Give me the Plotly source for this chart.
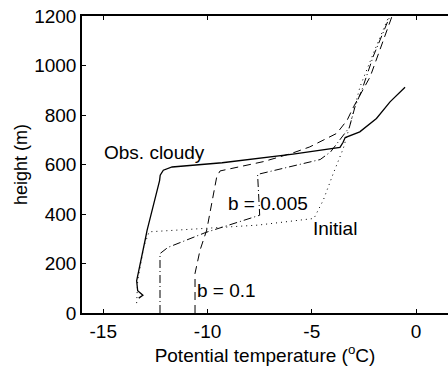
import plotly.graph_objects as go

# Observed cloudy profile (solid)
obs_x = [-13.3, -13.1, -13.35, -13.4, -13.3, -13.22, -13.15, -13.06, -12.98, -12.9, -12.82,
         -12.75, -12.66, -12.58, -12.48, -12.38, -12.3, -12.27, -12.12, -11.7, -9.3, -5.9,
         -3.65, -3.5, -3.4, -2.7, -1.9, -1.25, -0.53]
obs_y = [60, 72, 90, 130, 170, 200, 235, 267, 300, 334, 360,
         388, 415, 442, 478, 510, 535, 557, 577, 590, 607, 642,
         669, 690, 709, 732, 786, 853, 912]

# Initial profile (dotted)
init_x = [-13.4, -13.35, -13.2, -13.05, -12.8, -7.6, -4.9, -4.45, -3.97, -3.49, -3.17, -2.69, -2.05, -1.3]
init_y = [40, 130, 200, 270, 328, 355, 382, 456, 564, 665, 759, 914, 1049, 1200]

# b = 0.005 (dash-dot)
b005_x = [-12.28, -12.28, -11.9, -10.1, -7.5, -7.55, -7.6, -4.6, -4.1, -3.2, -2.93, -2.6, -2.05, -1.25]
b005_y = [0, 240, 265, 325, 395, 470, 560, 620, 651, 750, 833, 901, 1038, 1200]

# b = 0.1 (dashed)
b01_x = [-10.6, -10.6, -10.36, -10.04, -9.56, -9.4, -7.3, -5.9, -5.1, -3.8, -3.3, -3.0, -2.2, -1.15]
b01_y = [0, 160, 254, 335, 550, 574, 612, 647, 671, 726, 780, 833, 955, 1200]

x_ticks = [-15, -10, -5, 0]
y_ticks = [0, 200, 400, 600, 800, 1000, 1200]

labels = ["Obs. cloudy", "b = 0.005", "Initial", "b = 0.1"]
label_x = [-12.56, -7.09, -3.89, -9.08]
label_y = [650, 442, 341, 92]

FONT = "Liberation Sans, Arial, sans-serif"
fig = go.Figure()
fig.add_trace(go.Scatter(x=init_x, y=init_y, mode="lines",
                         line=dict(color="black", width=1, dash="1px,4px")))
fig.add_trace(go.Scatter(x=b005_x, y=b005_y, mode="lines",
                         line=dict(color="black", width=1, dash="8px,3px,1px,3px")))
fig.add_trace(go.Scatter(x=b01_x, y=b01_y, mode="lines",
                         line=dict(color="black", width=1, dash="8px,5px")))
fig.add_trace(go.Scatter(x=obs_x, y=obs_y, mode="lines",
                         line=dict(color="black", width=1.3)))
# invisible trace to carry the top axis
fig.add_trace(go.Scatter(x=[-15], y=[0], xaxis="x2", mode="markers",
                         marker=dict(opacity=0), hoverinfo="skip"))

for t, xx, yy in zip(labels, label_x, label_y):
    fig.add_annotation(x=xx, y=yy, text=t, showarrow=False,
                       font=dict(family=FONT, size=19, color="black"))

axis_common = dict(showgrid=False, zeroline=False, showline=True, linecolor="black",
                   linewidth=1.5, ticks="inside", ticklen=4, tickcolor="black",
                   tickfont=dict(family=FONT, size=19, color="black"))

fig.update_layout(
    width=448, height=369,
    margin=dict(l=82, r=0, t=16, b=56),
    paper_bgcolor="white", plot_bgcolor="white",
    showlegend=False,
    xaxis=dict(range=[-16.02, 1.53], tickvals=x_ticks, ticktext=[str(v) for v in x_ticks],
               title=dict(text="Potential temperature (<sup>o</sup>C)",
                          font=dict(family=FONT, size=19, color="black"), standoff=4),
               **axis_common),
    xaxis2=dict(range=[-16.02, 1.53], overlaying="x", side="top", matches="x",
                tickvals=x_ticks, showticklabels=False, **axis_common),
    yaxis=dict(range=[0, 1200], tickvals=y_ticks,
               title=dict(text="height (m)", font=dict(family=FONT, size=18, color="black"),
                          standoff=2),
               **axis_common),
)

fig.write_html("out.html")
